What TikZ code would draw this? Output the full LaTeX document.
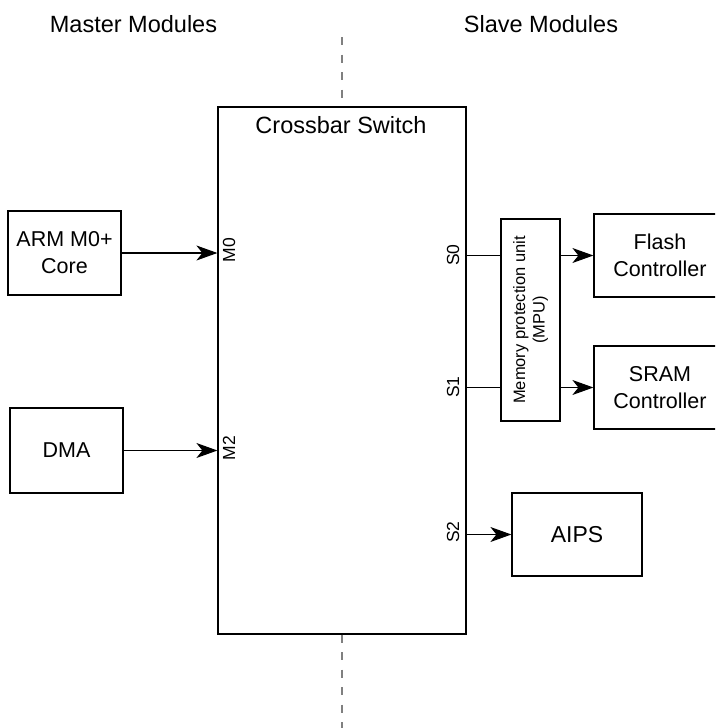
\documentclass[tikz,border=0pt]{standalone}
\usepackage{fontspec}
\setmainfont{Liberation Sans}
\usetikzlibrary{arrows.meta}

\tikzset{
  bloc/.style={draw, line width=1.2pt, align=center,
    font=\fontsize{21.5}{27}\selectfont},
  titre/.style={anchor=base, font=\fontsize{23.5}{28}\selectfont},
  port/.style={rotate=90, font=\fontsize{17.5}{20}\selectfont},
  lien/.style={line width=1.1pt},
  fleche/.style={lien, -{Stealth[length=21pt,width=15pt,inset=6pt]}},
  separ/.style={line width=1.2pt, gray, dash pattern=on 8pt off 9.5pt},
}

\begin{document}
\begin{tikzpicture}[x=1pt,y=-1pt]

\useasboundingbox (0,0) rectangle (715,728);
\clip (0,0) rectangle (715,728);

% Titres
\node[titre] (maitres) at (133.5,32) {Master Modules};
\node[titre] (esclaves) at (541,32) {Slave Modules};

% Commutateur crossbar
\node[draw, line width=1.2pt,
  minimum width=248pt, minimum height=527pt]
  (xbar) at (342,370.5) {};

\node[titre] (xbartitre)
  at (341,133)
  {Crossbar Switch};

% Ligne de separation
\coordinate (haut) at (342,37);
\coordinate (bas) at (342,728);

\draw[separ] (haut) -- (xbar.north);
\draw[separ] (xbar.south) -- (bas);

% Maitres
\node[bloc, minimum width=113pt, minimum height=84pt]
  (arm) at (64.5,253) {ARM M0+\\Core};

\node[bloc, minimum width=113pt, minimum height=85pt]
  (dma) at (66.5,450.5) {DMA};

% Esclaves
\node[bloc, rotate=90, minimum width=202pt, minimum height=59pt,
  font=\fontsize{16.5}{19.5}\selectfont]
  (mpu) at (530.5,320) {Memory protection unit\\(MPU)};

\node[bloc, minimum width=132pt, minimum height=83pt]
  (flash) at (660,255.5) {Flash\\Controller};

\node[bloc, minimum width=132pt, minimum height=83pt]
  (sram) at (660,387.5) {SRAM\\Controller};

\node[bloc, minimum width=130pt, minimum height=83pt,
  font=\fontsize{23}{28}\selectfont]
  (aips) at (577,534.5) {AIPS};

% Ports
\node[port] (m0) at (229,250) {M0};
\node[port] (m2) at (229,448) {M2};
\node[port] (s0) at (453,255) {S0};
\node[port] (s1) at (453,387) {S1};
\node[port] (s2) at (453,532) {S2};

% Connexions
\draw[fleche]
  (arm.east)
  --
  (arm.east -| xbar.west);

\draw[fleche]
  (dma.east)
  --
  (dma.east -| xbar.west);

\foreach \cible in {flash,sram}
{
  \draw[lien]
    (xbar.east |- \cible)
    --
    (mpu.north |- \cible);
  \draw[fleche]
    (mpu.south |- \cible)
    --
    (\cible.west);
}

\draw[fleche]
  (xbar.east |- aips)
  --
  (aips.west);

\end{tikzpicture}
\end{document}
